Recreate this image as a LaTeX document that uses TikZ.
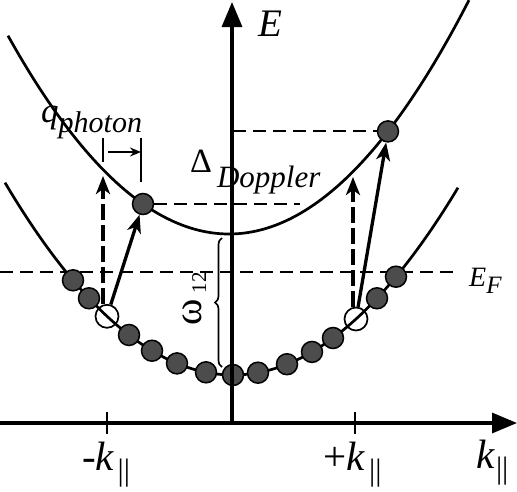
\documentclass[tikz,border=0pt]{standalone}
\usepackage{fontspec}
\setmainfont{Liberation Serif}
\usetikzlibrary{arrows.meta,decorations.pathreplacing}
\newcommand\fsz[1]{\fontsize{#1}{#1}\selectfont}
\begin{document}
\begin{tikzpicture}[x=1pt,y=-1pt,
  dot/.style={circle, draw=black, line width=1.5pt, fill=gray!60!black, minimum size=21pt, inner sep=0pt},
  hole/.style={circle, draw=black, line width=1.7pt, minimum size=23pt, inner sep=0pt},
  curve/.style={line width=2.7pt},
  axis/.style={line width=3.3pt, -{Triangle[length=25pt,width=20pt]}},
  guide/.style={line width=1.9pt, dash pattern=on 13pt off 7pt},
  uparrow/.style={line width=3.3pt, -{Stealth[length=18pt,width=14pt,inset=5pt]}},
  dasharrow/.style={uparrow, dash pattern=on 16pt off 5pt},
  thinline/.style={line width=1.8pt},
  lab/.style={inner sep=0pt, anchor=base west}]
\useasboundingbox (0,0) rectangle (517,491);
% curves
\draw[curve] plot[domain=-22.8:22.5,samples=120] ({233+10*\x},{375-0.37*\x*\x});
\draw[curve] plot[domain=-22.1:24.0,samples=120] ({229+10*\x},{234-0.406*\x*\x});
% guide lines
\coordinate (EFa) at (0,272);
\coordinate (EFb) at (458,272);
\draw[guide] (EFa) -- (EFb);
\node[dot] (u1) at (143,204) {};
\node[dot] (u2) at (388,131.4) {};
\coordinate (Da) at (233,131.4);
\coordinate (Db) at (300,204);
\draw[guide] (Da) -- (u2.west);
\draw[guide] (u1.east) -- (Db);
% lower dots
\foreach \dx [count=\i] in {-16,-14.4,-10.4,-8.1,-5.6,-2.7,0,2.5,5.4,7.9,10,14.4,16.3}
  \node[dot] (d\i) at ({233+10*\dx},{375-0.37*\dx*\dx}) {};
\node[hole] (hL) at (107,316.3) {};
\node[hole] (hR) at (356,319) {};
% axes
\coordinate (O) at (232,423);
\coordinate (Etip) at (232,2);
\coordinate (Xa) at (0,423);
\coordinate (Xb) at (517,423);
\draw[axis] (O) -- (Etip);
\draw[axis] (Xa) -- (Xb);
\coordinate (t1a) at (107,412); \coordinate (t1b) at (107,434);
\coordinate (t2a) at (355,412); \coordinate (t2b) at (355,434);
\draw[line width=2.8pt] (t1a) -- (t1b);
\draw[line width=2.8pt] (t2a) -- (t2b);
% transitions
\coordinate (tL) at (103,176);
\coordinate (tR) at (353,177);
\draw[dasharrow] ([xshift=-4pt]hL.north) -- (tL);
\draw[dasharrow] ([xshift=-3pt]hR.north) -- (tR);
\draw[uparrow] (hL) -- (u1);
\draw[uparrow] (hR) -- (u2);
% q photon
\coordinate (qa1) at (103,138); \coordinate (qa2) at (103,162);
\coordinate (qb1) at (141,138); \coordinate (qb2) at (141,182);
\coordinate (qs) at (108,152); \coordinate (qe) at (141,152);
\draw[thinline] (qa1) -- (qa2);
\draw[thinline] (qb1) -- (qb2);
\draw[thinline, -{Stealth[length=11pt,width=9pt]}] (qs) -- (qe);
% brace
\coordinate (Ba) at (222,367);
\coordinate (Bb) at (222,238);
\draw[line width=1.7pt, decorate, decoration={brace, amplitude=7pt}] (Ba) -- (Bb);
% labels
\node[lab] (Elab) at (258,36) {\fsz{39}\textit{E}};
\node[lab] (EF) at (469,286) {\fsz{28}\textit{E}\raisebox{-7pt}{\fsz{25}\textit{F}}};
\node[lab] (km) at (82,470) {\fsz{41}-\textit{k}\kern3pt\raisebox{-10pt}{\fsz{31}||}};
\node[lab] (kp) at (323,470) {\fsz{41}+\textit{k}\kern4pt\raisebox{-10pt}{\fsz{31}||}};
\node[lab] (kx) at (476,468) {\fsz{41}\textit{k}\kern1pt\raisebox{-10pt}{\fsz{31}||}};
\node[lab] (DD) at (190,172) {\fsz{34}Δ\kern5pt\raisebox{-15pt}{\fsz{31}\textit{Doppler}}};
\node[lab] (ql) at (41,122) {\fsz{35}\textit{q}\raisebox{-10pt}{\fsz{30}\textit{photon}}};
\node[lab, rotate=90] (om) at (201,326) {\fsz{40}ω\kern6pt\raisebox{-5pt}{\fsz{21}12}};
\end{tikzpicture}
\end{document}
